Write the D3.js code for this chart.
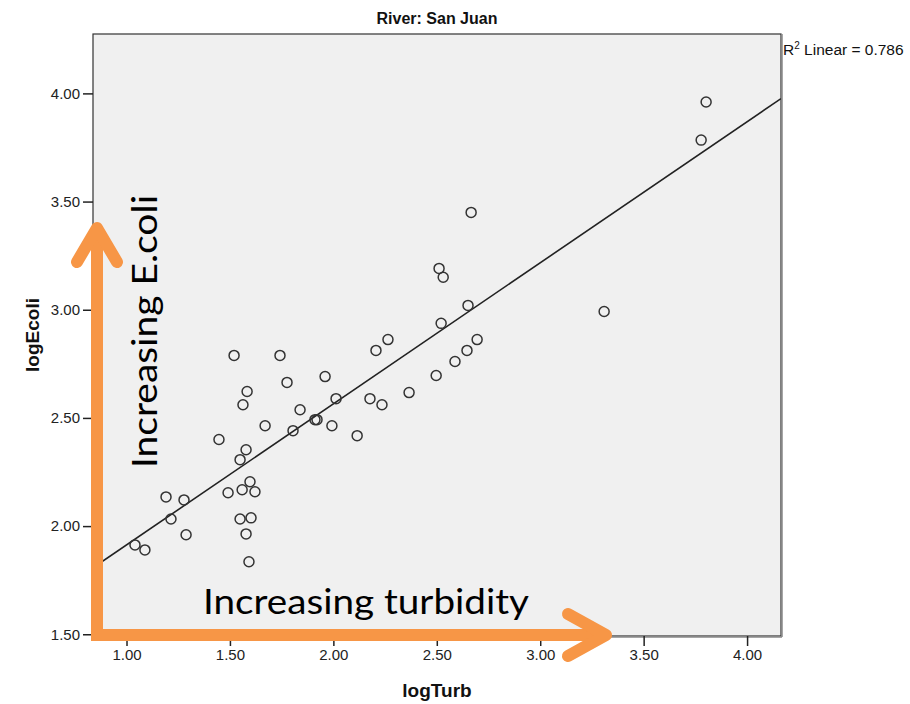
<!DOCTYPE html>
<html>
<head>
<meta charset="utf-8">
<script src="https://cdn.jsdelivr.net/npm/d3@7"></script>
<style>
  html, body { margin: 0; padding: 0; background: #fff; }
  svg { display: block; }
</style>
</head>
<body>
<svg id="chart" width="910" height="704"></svg>
<script>
// ---- data ----
const chartTitle = "River: San Juan";
const xLabel = "logTurb";
const yLabel = "logEcoli";
const logTurb = [1.041, 1.089, 1.191, 1.215, 1.278, 1.288, 1.447, 1.491, 1.520, 1.549,
                 1.549, 1.559, 1.563, 1.578, 1.583, 1.578, 1.597, 1.602, 1.621, 1.592,
                 1.670, 1.742, 1.776, 1.805, 1.839, 1.911, 1.921, 1.960, 1.993, 2.013,
                 2.115, 2.177, 2.206, 2.235, 2.264, 2.366, 2.497, 2.511, 2.531, 2.521,
                 2.588, 2.646, 2.651, 2.666, 2.695, 3.309, 3.778, 3.802];
const logEcoli = [1.913, 1.890, 2.135, 2.033, 2.121, 1.960, 2.400, 2.154, 2.789, 2.307,
                  2.033, 2.168, 2.561, 2.353, 2.622, 1.964, 2.205, 2.038, 2.159, 1.835,
                  2.464, 2.789, 2.664, 2.441, 2.538, 2.492, 2.492, 2.691, 2.464, 2.589,
                  2.418, 2.589, 2.812, 2.561, 2.862, 2.617, 2.696, 3.191, 3.150, 2.937,
                  2.761, 2.812, 3.020, 3.450, 2.862, 2.992, 3.784, 3.960];
const fitCoef = [1.261, 0.652];      // intercept, slope
const rSquared = 0.786;
const xTicks = [1.0, 1.5, 2.0, 2.5, 3.0, 3.5, 4.0];
const yTicks = [1.5, 2.0, 2.5, 3.0, 3.5, 4.0];
const xDomain = [0.838, 4.164];
const yDomain = [1.492, 4.2745];
const annotY = "Increasing E.coli";
const annotX = "Increasing turbidity";

// ---- layout ----
const svg = d3.select("#chart");
const L = 93, R = 781, T = 34, B = 636;
const x = d3.scaleLinear().domain(xDomain).range([L, R]);
const y = d3.scaleLinear().domain(yDomain).range([B, T]);
const sansFont = "'Liberation Sans', Arial, sans-serif";
const orange = "#F79646";

// title
svg.append("text").attr("x", (L + R) / 2).attr("y", 24)
  .attr("text-anchor", "middle").attr("font-family", sansFont)
  .attr("font-weight", "bold").attr("font-size", 16).attr("fill", "#111")
  .text(chartTitle);

// plot frame
svg.append("rect").attr("x", L).attr("y", T).attr("width", R - L).attr("height", B - T)
  .attr("fill", "#f0f0f0").attr("stroke", "#333").attr("stroke-width", 1.2);
svg.append("line").attr("x1", R + 1).attr("x2", R + 1).attr("y1", T).attr("y2", B + 1)
  .attr("stroke", "#888").attr("stroke-width", 1.5);
svg.append("line").attr("x1", L).attr("x2", R + 1).attr("y1", B + 1).attr("y2", B + 1)
  .attr("stroke", "#888").attr("stroke-width", 1.5);

// clip
svg.append("clipPath").attr("id", "plotclip").append("rect")
  .attr("x", L).attr("y", T).attr("width", R - L).attr("height", B - T);

// regression line
const lineData = xDomain.map(v => [v, fitCoef[0] + fitCoef[1] * v]);
svg.append("path").attr("clip-path", "url(#plotclip)")
  .attr("d", d3.line().x(d => x(d[0])).y(d => y(d[1]))(lineData))
  .attr("stroke", "#222").attr("stroke-width", 1.6).attr("fill", "none");

// points
svg.append("g").selectAll("circle").data(logTurb.map((v, i) => [v, logEcoli[i]]))
  .join("circle")
  .attr("cx", d => x(d[0])).attr("cy", d => y(d[1])).attr("r", 5)
  .attr("fill", "none").attr("stroke", "#333").attr("stroke-width", 1.5);

// axes
const fmt = d3.format(".2f");
const yAxis = svg.append("g").attr("transform", `translate(${L},0)`)
  .call(d3.axisLeft(y).tickValues(yTicks).tickFormat(fmt).tickSize(10).tickPadding(3));
const xAxis = svg.append("g").attr("transform", `translate(0,${B})`)
  .call(d3.axisBottom(x).tickValues(xTicks).tickFormat(fmt).tickSize(10).tickPadding(3));
[xAxis, yAxis].forEach(g => {
  g.select(".domain").remove();
  g.selectAll(".tick line").attr("stroke", "#222").attr("stroke-width", 1.5);
  g.selectAll(".tick text").attr("font-family", sansFont).attr("font-size", 15).attr("fill", "#222");
});

// axis titles
svg.append("text").attr("x", (L + R) / 2).attr("y", 697)
  .attr("text-anchor", "middle").attr("font-family", sansFont)
  .attr("font-weight", "bold").attr("font-size", 19).attr("fill", "#111").text(xLabel);
svg.append("text").attr("transform", `translate(39,335) rotate(-90)`)
  .attr("text-anchor", "middle").attr("font-family", sansFont)
  .attr("font-weight", "bold").attr("font-size", 19).attr("fill", "#111").text(yLabel);

// R² label
const r2 = svg.append("text").attr("x", R + 2).attr("y", 55)
  .attr("font-family", sansFont).attr("font-size", 15.5).attr("fill", "#111");
r2.append("tspan").text("R");
r2.append("tspan").attr("dy", -6).attr("font-size", 10).text("2");
r2.append("tspan").attr("dy", 6).text(" Linear = " + d3.format(".3f")(rSquared));

// ---- annotations (orange arrows) ----
const ann = svg.append("g");
ann.append("line").attr("x1", 97).attr("x2", 97).attr("y1", 641).attr("y2", 232)
  .attr("stroke", orange).attr("stroke-width", 12);
ann.append("polyline").attr("points", "77,262 97,228 117,262")
  .attr("fill", "none").attr("stroke", orange).attr("stroke-width", 12)
  .attr("stroke-linecap", "round").attr("stroke-linejoin", "round");
ann.append("line").attr("x1", 91).attr("x2", 602).attr("y1", 635).attr("y2", 635)
  .attr("stroke", orange).attr("stroke-width", 12);
ann.append("polyline").attr("points", "568,614 606,635 568,656")
  .attr("fill", "none").attr("stroke", orange).attr("stroke-width", 12)
  .attr("stroke-linecap", "round").attr("stroke-linejoin", "round");

ann.append("text").attr("x", 203).attr("y", 614)
  .attr("font-family", "Lato, 'Open Sans', sans-serif").attr("font-size", 34)
  .attr("textLength", 326).attr("lengthAdjust", "spacingAndGlyphs")
  .attr("fill", "#000").text(annotX);
ann.append("text").attr("transform", "translate(157,468) rotate(-90)")
  .attr("font-family", "Lato, 'Open Sans', sans-serif").attr("font-size", 34)
  .attr("textLength", 273).attr("lengthAdjust", "spacingAndGlyphs")
  .attr("fill", "#000").text(annotY);
</script>
</body>
</html>
